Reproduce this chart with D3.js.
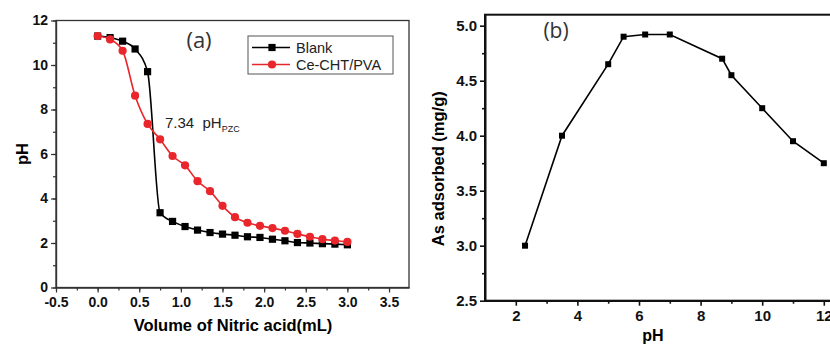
<!DOCTYPE html>
<html>
<head>
<meta charset="utf-8">
<script src="https://cdn.jsdelivr.net/npm/d3@7"></script>
<style>
    body { margin: 0; background: #fff; }
    svg { display: block; font-family: "Liberation Sans", Arial, sans-serif; }
</style>
</head>
<body>
<script>
// panel (a): titration curves
var volume = [0, 0.15, 0.3, 0.45, 0.6, 0.75, 0.9, 1.05, 1.2, 1.35, 1.5, 1.65, 1.8, 1.95, 2.1, 2.25, 2.4, 2.55, 2.7, 2.85, 3.0];
var blankPH = [11.3, 11.23, 11.07, 10.72, 9.7, 3.36, 2.97, 2.74, 2.58, 2.47, 2.4, 2.35, 2.28, 2.25, 2.17, 2.1, 2.02, 2.0, 1.97, 1.95, 1.92];
var cePH = [11.3, 11.15, 10.64, 8.62, 7.35, 6.66, 5.91, 5.49, 4.78, 4.33, 3.67, 3.16, 2.91, 2.77, 2.67, 2.55, 2.41, 2.28, 2.17, 2.11, 2.05];
var seriesNames = ['Blank', 'Ce-CHT/PVA'];
var volumeTicks = [-0.5, 0, 0.5, 1, 1.5, 2, 2.5, 3, 3.5];
var phTicksA = [0, 2, 4, 6, 8, 10, 12];

// panel (b): adsorption vs pH
var solutionPH = [2.3, 3.5, 5, 5.5, 6.2, 7, 8.7, 9, 10, 11, 12];
var adsorbed = [3.0, 4.0, 4.65, 4.9, 4.92, 4.92, 4.7, 4.55, 4.25, 3.95, 3.75];
var phTicksB = [2, 4, 6, 8, 10, 12];
var adsorbedTicks = [2.5, 3.0, 3.5, 4.0, 4.5, 5.0];

var width = 830, height = 344;
var svg = d3.select('body').append('svg')
    .attr('width', width)
    .attr('height', height);

function range(a, b, step) {
    return d3.range(Math.round((b - a) / step) + 1).map(function(i) { return +(a + i * step).toFixed(3); });
}

// hyphen instead of unicode minus, like the original figure
function fmt(spec) {
    var f = d3.format(spec);
    return function(d) { return f(d).replace('\u2212', '-'); };
}

function styleAxis(g, stroke, fontSize) {
    g.selectAll('path, line').attr('stroke', stroke).attr('stroke-width', g.attr('data-w'));
    g.selectAll('text').attr('font-size', fontSize).attr('font-weight', 'bold').attr('fill', '#111')
        .attr('font-family', '"Liberation Sans", Arial, sans-serif');
}

// ---------- panel (a) ----------
var xA = d3.scaleLinear().domain([-0.5, 3.74]).range([56, 409]);
var yA = d3.scaleLinear().domain([0, 12]).range([287.5, 20.5]);
var strokeA = '#333';

var gA = svg.append('g');

gA.append('rect')
    .attr('x', xA.range()[0]).attr('y', yA.range()[1])
    .attr('width', xA.range()[1] - xA.range()[0])
    .attr('height', yA.range()[0] - yA.range()[1])
    .attr('fill', 'none').attr('stroke', strokeA).attr('stroke-width', 1.3);

// minor ticks
gA.append('g').attr('transform', 'translate(0,' + yA(0) + ')').attr('data-w', 1.2)
    .call(d3.axisBottom(xA).tickValues(range(-0.5, 3.5, 0.25)).tickSize(3).tickFormat('').tickSizeOuter(0))
    .call(function(g) { styleAxis(g, strokeA, 14); });
gA.append('g').attr('transform', 'translate(' + xA(-0.5) + ',0)').attr('data-w', 1.2)
    .call(d3.axisLeft(yA).tickValues(range(0, 12, 1)).tickSize(3).tickFormat('').tickSizeOuter(0))
    .call(function(g) { styleAxis(g, strokeA, 14); });

gA.append('g').attr('transform', 'translate(0,' + yA(0) + ')').attr('data-w', 1.2)
    .call(d3.axisBottom(xA).tickValues(volumeTicks).tickSize(5).tickPadding(5).tickFormat(fmt('.1f')).tickSizeOuter(0))
    .call(function(g) { styleAxis(g, strokeA, 14); });
gA.append('g').attr('transform', 'translate(' + xA(-0.5) + ',0)').attr('data-w', 1.2)
    .call(d3.axisLeft(yA).tickValues(phTicksA).tickSize(5).tickPadding(3).tickFormat(fmt('d')).tickSizeOuter(0))
    .call(function(g) { styleAxis(g, strokeA, 14); });

gA.append('text')
    .attr('x', 233).attr('y', 331)
    .attr('text-anchor', 'middle').attr('font-weight', 'bold').attr('font-size', 16.5)
    .text('Volume of Nitric acid(mL)');
gA.append('text')
    .attr('transform', 'translate(28,' + yA(6) + ') rotate(-90)')
    .attr('text-anchor', 'middle').attr('font-weight', 'bold').attr('font-size', 16.5)
    .text('pH');

var lineA = d3.line().curve(d3.curveMonotoneX)
    .x(function(d) { return xA(d[0]); })
    .y(function(d) { return yA(d[1]); });

var blankPts = volume.map(function(v, i) { return [v, blankPH[i]]; });
var cePts = volume.map(function(v, i) { return [v, cePH[i]]; });

gA.append('path').datum(blankPts).attr('d', lineA)
    .attr('fill', 'none').attr('stroke', '#000').attr('stroke-width', 1.6);
gA.selectAll('.sq').data(blankPts).enter().append('rect')
    .attr('class', 'sq')
    .attr('x', function(d) { return xA(d[0]) - 3.6; })
    .attr('y', function(d) { return yA(d[1]) - 3.6; })
    .attr('width', 7.2).attr('height', 7.2).attr('fill', '#000');

var red = '#e8262b';
gA.append('path').datum(cePts).attr('d', lineA)
    .attr('fill', 'none').attr('stroke', red).attr('stroke-width', 1.6);
gA.selectAll('.ci').data(cePts).enter().append('circle')
    .attr('class', 'ci')
    .attr('cx', function(d) { return xA(d[0]); })
    .attr('cy', function(d) { return yA(d[1]); })
    .attr('r', 4.1).attr('fill', red);

gA.append('text')
    .attr('x', 199).attr('y', 48)
    .attr('text-anchor', 'middle').attr('font-size', 22).attr('fill', '#333')
    .attr('font-family', '"Open Sans", "DejaVu Sans", sans-serif')
    .text('(a)');

var pzc = gA.append('text').attr('x', 165).attr('y', 128).attr('font-size', 15).attr('fill', '#222');
pzc.append('tspan').text('7.34\u00a0\u00a0pH');
pzc.append('tspan').attr('font-size', 9).attr('dy', 4).text('PZC');

// legend
var legend = gA.append('g');
legend.append('rect')
    .attr('x', 248).attr('y', 36).attr('width', 145).attr('height', 38)
    .attr('fill', '#fff').attr('stroke', '#555').attr('stroke-width', 1);
var legendRows = legend.selectAll('.row').data(seriesNames).enter().append('g')
    .attr('class', 'row')
    .attr('transform', function(d, i) { return 'translate(0,' + (47.5 + i * 17) + ')'; });
legendRows.append('line')
    .attr('x1', 252).attr('x2', 290).attr('y1', 0).attr('y2', 0)
    .attr('stroke', function(d, i) { return i === 0 ? '#000' : red; })
    .attr('stroke-width', 1.6);
legendRows.each(function(d, i) {
    var row = d3.select(this);
    if (i === 0) {
        row.append('rect').attr('x', 268.4).attr('y', -3.6).attr('width', 7.2).attr('height', 7.2).attr('fill', '#000');
    } else {
        row.append('circle').attr('cx', 272).attr('cy', 0).attr('r', 4.1).attr('fill', red);
    }
});
legendRows.append('text')
    .attr('x', 296).attr('y', 5.5)
    .attr('font-size', 14.5).attr('fill', '#222')
    .text(function(d) { return d; });

// ---------- panel (b) ----------
var xB = d3.scaleLinear().domain([1, 13]).range([485, 854.6]);
var yB = d3.scaleLinear().domain([2.5, 5.1]).range([300.7, 14.7]);
var strokeB = '#111';

var gB = svg.append('g');

gB.append('rect')
    .attr('x', xB.range()[0]).attr('y', yB.range()[1])
    .attr('width', xB.range()[1] - xB.range()[0])
    .attr('height', yB.range()[0] - yB.range()[1])
    .attr('fill', 'none').attr('stroke', strokeB).attr('stroke-width', 2);

gB.append('g').attr('transform', 'translate(0,' + yB(2.5) + ')').attr('data-w', 1.6)
    .call(d3.axisBottom(xB).tickValues(range(3, 11, 2)).tickSize(3).tickFormat('').tickSizeOuter(0))
    .call(function(g) { styleAxis(g, strokeB, 15); });
gB.append('g').attr('transform', 'translate(' + xB(1) + ',0)').attr('data-w', 1.6)
    .call(d3.axisLeft(yB).tickValues(range(2.75, 4.75, 0.5)).tickSize(3).tickFormat('').tickSizeOuter(0))
    .call(function(g) { styleAxis(g, strokeB, 15); });

gB.append('g').attr('transform', 'translate(0,' + yB(2.5) + ')').attr('data-w', 1.6)
    .call(d3.axisBottom(xB).tickValues(phTicksB).tickSize(5).tickPadding(5).tickFormat(fmt('d')).tickSizeOuter(0))
    .call(function(g) { styleAxis(g, strokeB, 15); });
gB.append('g').attr('transform', 'translate(' + xB(1) + ',0)').attr('data-w', 1.6)
    .call(d3.axisLeft(yB).tickValues(adsorbedTicks).tickSize(5).tickPadding(3).tickFormat(fmt('.1f')).tickSizeOuter(0))
    .call(function(g) { styleAxis(g, strokeB, 15); });

gB.append('text')
    .attr('x', 653).attr('y', 341)
    .attr('text-anchor', 'middle').attr('font-weight', 'bold').attr('font-size', 16)
    .text('pH');
gB.append('text')
    .attr('transform', 'translate(444,' + yB(3.7) + ') rotate(-90)')
    .attr('text-anchor', 'middle').attr('font-weight', 'bold').attr('font-size', 16.5)
    .text('As adsorbed (mg/g)');

var lineB = d3.line()
    .x(function(d) { return xB(d[0]); })
    .y(function(d) { return yB(d[1]); });
var adsPts = solutionPH.map(function(p, i) { return [p, adsorbed[i]]; });

gB.append('path').datum(adsPts).attr('d', lineB)
    .attr('fill', 'none').attr('stroke', '#000').attr('stroke-width', 1.6);
gB.selectAll('.sq').data(adsPts).enter().append('rect')
    .attr('class', 'sq')
    .attr('x', function(d) { return xB(d[0]) - 3; })
    .attr('y', function(d) { return yB(d[1]) - 3; })
    .attr('width', 6).attr('height', 6).attr('fill', '#000');

gB.append('text')
    .attr('x', 556).attr('y', 38)
    .attr('text-anchor', 'middle').attr('font-size', 21).attr('fill', '#333')
    .attr('font-family', '"Open Sans", "DejaVu Sans", sans-serif')
    .text('(b)');
</script>
</body>
</html>
